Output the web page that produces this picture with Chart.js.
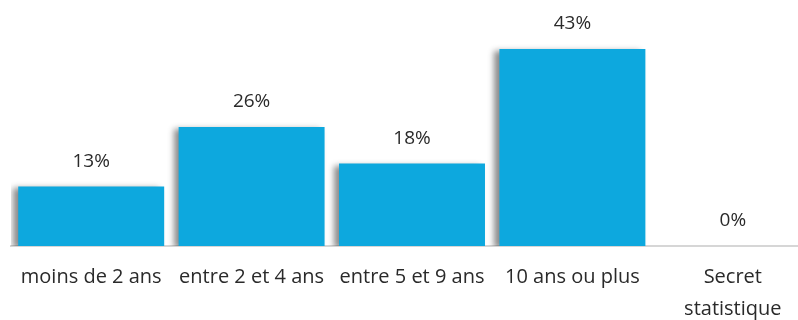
<!DOCTYPE html>
<html>
<head>
<meta charset="utf-8">
<script src="https://cdn.jsdelivr.net/npm/chart.js@4"></script>
<style>
  html, body { margin: 0; padding: 0; background: #fff; overflow: hidden; }
  #wrap { width: 813px; height: 320px; position: relative; }
</style>
</head>
<body>
<div id="wrap"><canvas id="anciennete"></canvas></div>
<script>
// Données
const categories = [
    'moins de 2 ans',
    'entre 2 et 4 ans',
    'entre 5 et 9 ans',
    '10 ans ou plus',
    ['Secret', 'statistique']
];
const pourcentages = [13, 26, 18, 43, 0];

const couleurBarre = '#0da8de';

// Ombre sous les barres
const ombrePlugin = {
    id: 'ombre',
    beforeDatasetsDraw(chart) {
        const ctx = chart.ctx;
        ctx.save();
        ctx.shadowColor = 'rgba(0, 0, 0, 0.45)';
        ctx.shadowBlur = 6;
        ctx.shadowOffsetX = -5;
        ctx.shadowOffsetY = 2;
    },
    afterDatasetsDraw(chart) {
        chart.ctx.restore();
    }
};

// Étiquettes de valeur au-dessus des barres
const etiquettesPlugin = {
    id: 'etiquettes',
    afterDatasetsDraw(chart) {
        const ctx = chart.ctx;
        const meta = chart.getDatasetMeta(0);
        ctx.save();
        ctx.font = '19px "Open Sans", sans-serif';
        ctx.fillStyle = '#2a2a2a';
        ctx.textAlign = 'center';
        ctx.textBaseline = 'middle';
        meta.data.forEach((bar, i) => {
            ctx.fillText(pourcentages[i] + '%', bar.x, bar.y - 25);
        });
        ctx.restore();
    }
};

new Chart(document.getElementById('anciennete'), {
    type: 'bar',
    data: {
        labels: categories,
        datasets: [{
            data: pourcentages,
            backgroundColor: couleurBarre,
            borderWidth: 0,
            barPercentage: 0.91,
            categoryPercentage: 1
        }]
    },
    options: {
        responsive: true,
        maintainAspectRatio: false,
        animation: false,
        layout: {
            padding: { left: 11, right: 0, top: 17, bottom: 0 }
        },
        plugins: {
            legend: { display: false },
            tooltip: { enabled: false }
        },
        scales: {
            y: {
                display: false,
                min: 0,
                max: 50
            },
            x: {
                grid: { display: false },
                border: { color: '#d6d6d6', width: 2 },
                afterFit(scale) {
                    scale.height = 74;
                },
                ticks: {
                    color: '#2a2a2a',
                    padding: 7,
                    maxRotation: 0,
                    autoSkip: false,
                    font: { family: '"Open Sans", sans-serif', size: 20, lineHeight: 1.6 }
                }
            }
        }
    },
    plugins: [ombrePlugin, etiquettesPlugin]
});
</script>
</body>
</html>
